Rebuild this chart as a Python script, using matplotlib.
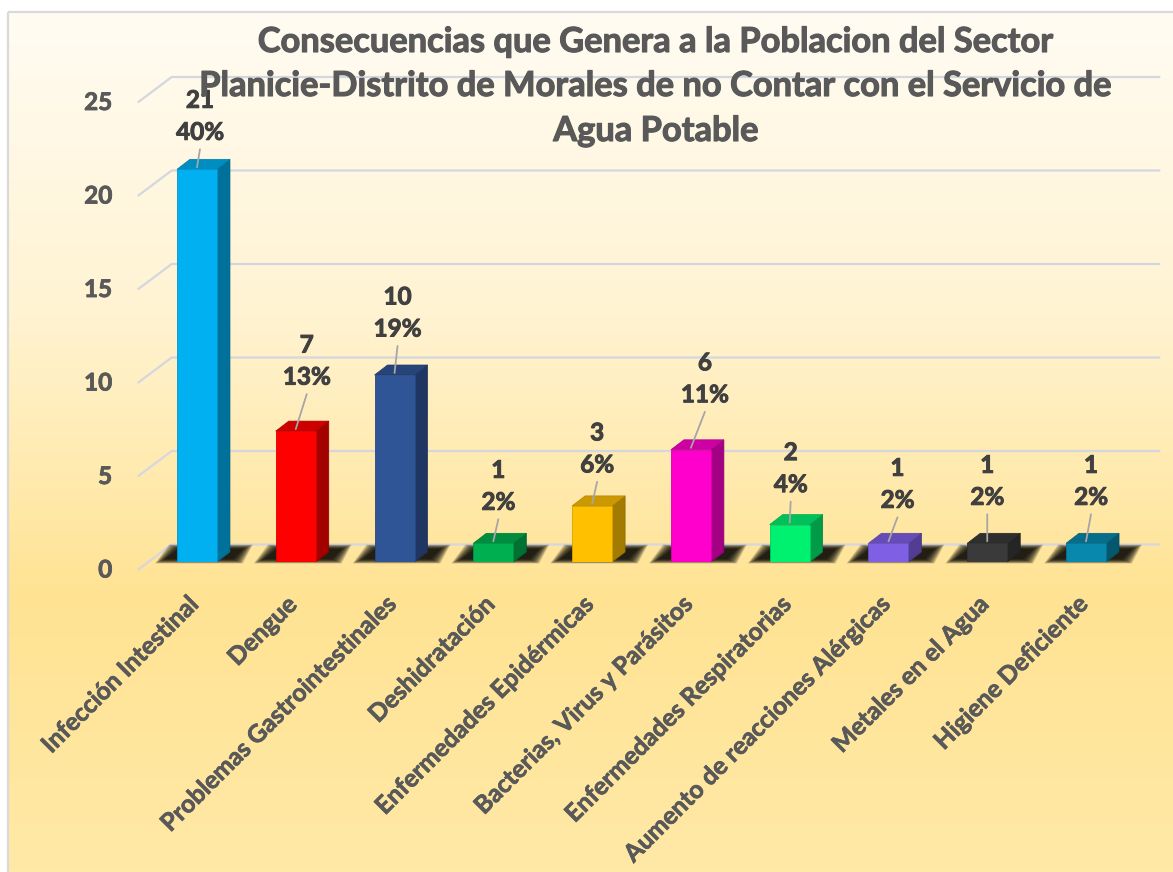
import numpy as np
import matplotlib
matplotlib.use("Agg")
import matplotlib.pyplot as plt
from matplotlib.patches import Polygon, Rectangle
from matplotlib.colors import LinearSegmentedColormap, to_rgb
import matplotlib.patheffects as pe

# ---------------- data ----------------
categories = ["Infección Intestinal", "Dengue", "Problemas Gastrointestinales",
              "Deshidratación", "Enfermedades Epidérmicas",
              "Bacterias, Virus y Parásitos", "Enfermedades Respiratorias",
              "Aumento de reacciones Alérgicas", "Metales en el Agua",
              "Higiene Deficiente"]
values = [21, 7, 10, 1, 3, 6, 2, 1, 1, 1]
percents = [40, 13, 19, 2, 6, 11, 4, 2, 2, 2]
y_ticks = [0, 5, 10, 15, 20, 25]
title_lines = ["Consecuencias que Genera a la Poblacion del Sector",
               "Planicie-Distrito de Morales de no Contar con el Servicio de",
               "Agua Potable"]

# ---------------- style ----------------
colors = ["#00B0F0", "#FF0000", "#2F5597", "#00B050", "#FFC000",
          "#FF00CC", "#00F070", "#7F5FE3", "#3A3A3A", "#0888AC"]
label_dx = [3, 11, 3, 5, 5, 14, 1, 9, 0, 5]        # px
label_lift = [37, 54, 46, 41, 41, 55, 40, 43, 46, 46]  # px

W, H, DPI = 1173, 872, 100
fig = plt.figure(figsize=(W / DPI, H / DPI), dpi=DPI)
fig.patch.set_facecolor("white")
plt.rcParams['font.family'] = ['Lato', 'DejaVu Sans']


def heavy(c, w=0.7):
    return [pe.withStroke(linewidth=w, foreground=c)]


# background panel with gradient
bg = fig.add_axes([0, 0, 1, 1], zorder=0)
bg.set_xlim(0, W)
bg.set_ylim(H, 0)
bg.axis('off')
cmap = LinearSegmentedColormap.from_list(
    'bg', [(0, '#FFFCF3'), (0.35, '#FFF3D2'), (0.68, '#FFE393'), (1, '#FFE9A7')])
grad = np.linspace(0, 1, 256).reshape(-1, 1)
bg.imshow(grad, cmap=cmap, extent=(8, W, H, 12), aspect='auto', zorder=0)
bg.add_patch(Rectangle((8, 12), W, H, fill=False, edgecolor='#D9D9D9', lw=1.6, zorder=1))

# main axes
ax = fig.add_axes([0.11739, 0.35550, 0.85899, 0.53612], zorder=1)
ax.set_xlim(-0.6, 9.6)
ax.set_ylim(0, 25)
ax.patch.set_alpha(0)
ax.axis('off')

r = fig.canvas.get_renderer()
p0 = ax.transData.transform((0, 0))
p1 = ax.transData.transform((1, 1))
kx = 1.0 / (p1[0] - p0[0])   # data units per pixel (x)
ky = 1.0 / (p1[1] - p0[1])   # data units per pixel (y)


def fit(s, target, base=20):
    t = fig.text(0, 0, s, fontsize=base, weight='bold')
    w = t.get_window_extent(r).width
    t.remove()
    return base * target / w


fs_title = fit(title_lines[1], 913)
fs_lab = fit("40%", 46) * 1.05
fs_tick = fit("25", 26) * 1.08
fs_x = fit("Infección Intestinal", 210)

# gridlines (3D frame)
grid_c = '#D4D7DF'
xf = -0.6
xb0 = -0.6 + 34 * kx
xb1 = 9.6 + 15 * kx
for v in y_ticks:
    yb = v + 17.5 * ky
    yf = v - 8 * ky
    ax.plot([xf, xb0, xb1], [yf, yb, yb], color=grid_c, lw=1.6,
            clip_on=False, zorder=1, solid_capstyle='butt')
    ax.text(xf - 25.5 * kx, yf, str(v), ha='right', va='center',
            fontsize=fs_tick, weight='bold', color='#595959', clip_on=False,
            path_effects=heavy('#595959', 0.6))

n = len(values)
x = np.arange(n)

# soft shadows on the floor
base = np.array([(-32, 3), (36, 3), (46, 13), (-18, 13)], dtype=float)
NL = 12
for i in range(n):
    for k in range(NL):
        g = (NL - 1 - k) * 0.9
        pts = base.copy()
        pts[0] += (-g, -0.45 * g)
        pts[1] += (g, -0.45 * g)
        pts[2] += (g, 0.45 * g)
        pts[3] += (-g, 0.45 * g)
        poly = np.column_stack([i + pts[:, 0] * kx, pts[:, 1] * ky])
        ax.add_patch(Polygon(poly, closed=True, facecolor='#000000', edgecolor='none',
                             alpha=0.15, zorder=2, clip_on=False))

# 3D bars
bw = 40 * kx
DX, DY = 13 * kx, 10 * ky


def shade(c, f):
    rgb = np.array(to_rgb(c))
    return tuple(rgb * f)


ax.bar(x, values, width=bw, color=colors, zorder=4,
       edgecolor=[shade(c, 0.85) for c in colors], linewidth=0.6)
for i, v in enumerate(values):
    xl, xr = i - bw / 2, i + bw / 2
    side = [(xr, 0), (xr + DX, DY), (xr + DX, v + DY), (xr, v)]
    top = [(xl, v), (xr, v), (xr + DX, v + DY), (xl + DX, v + DY)]
    ax.add_patch(Polygon(side, closed=True, facecolor=shade(colors[i], 0.64),
                         edgecolor=shade(colors[i], 0.55), lw=0.5, zorder=3.9, clip_on=False))
    ax.add_patch(Polygon(top, closed=True, facecolor=shade(colors[i], 0.8),
                         edgecolor=shade(colors[i], 0.7), lw=0.5, zorder=3.9, clip_on=False))

# data labels with leader lines
for i, (v, p) in enumerate(zip(values, percents)):
    dx, lift = label_dx[i], label_lift[i]
    ax.annotate('', xy=(i, v + 2 * ky), xytext=(dx, lift - 19), textcoords='offset pixels',
                arrowprops=dict(arrowstyle='-', color='#A6A6A6', lw=1.3,
                                shrinkA=0, shrinkB=0), zorder=5, annotation_clip=False)
    ax.annotate(f"{p}%", xy=(i, v), xytext=(dx, lift), textcoords='offset pixels',
                ha='center', va='center', fontsize=fs_lab, weight='bold',
                color='#404040', zorder=6, annotation_clip=False,
                path_effects=heavy('#404040', 0.7))
    ax.annotate(f"{v}", xy=(i, v), xytext=(dx, lift + 32), textcoords='offset pixels',
                ha='center', va='center', fontsize=fs_lab, weight='bold',
                color='#404040', zorder=6, annotation_clip=False,
                path_effects=heavy('#404040', 0.7))

# category labels
for i, c in enumerate(categories):
    ax.annotate(c, xy=(i, 0), xytext=(-3, -39), textcoords='offset pixels',
                rotation=45, ha='right', va='center', rotation_mode='anchor',
                fontsize=fs_x, weight='bold', color='#595959', annotation_clip=False,
                path_effects=heavy('#595959', 0.5))

# title
for line, yp in zip(title_lines, [42, 86, 131]):
    fig.text(656 / W, 1 - yp / H, line, ha='center', va='center',
             fontsize=fs_title, weight='bold', color='#595959', zorder=10,
             path_effects=heavy('#595959', 0.8))

fig.savefig("out.png", dpi=DPI)
